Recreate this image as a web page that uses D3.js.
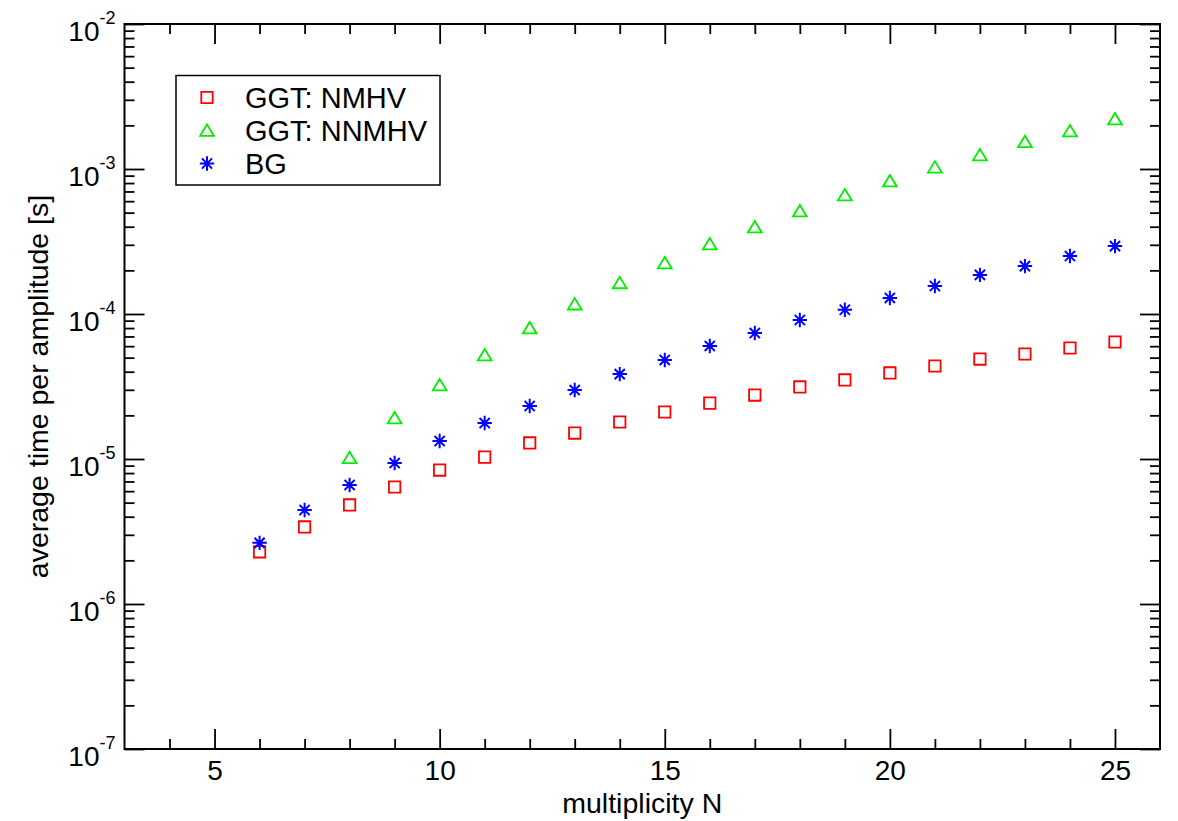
<!DOCTYPE html>
<html>
<head>
<meta charset="utf-8">
<script src="https://cdn.jsdelivr.net/npm/d3@7"></script>
<style>
  html, body { margin: 0; padding: 0; background: #fff; }
  svg { display: block; font-family: "Liberation Sans", Arial, Helvetica, sans-serif; }
</style>
</head>
<body>
<script>
// multiplicity N for each series
const nNMHV = [6, 7, 8, 9, 10, 11, 12, 13, 14, 15, 16, 17, 18, 19, 20, 21, 22, 23, 24, 25];
const nNNMHV = [8, 9, 10, 11, 12, 13, 14, 15, 16, 17, 18, 19, 20, 21, 22, 23, 24, 25];
const nBG = [6, 7, 8, 9, 10, 11, 12, 13, 14, 15, 16, 17, 18, 19, 20, 21, 22, 23, 24, 25];

// average time per amplitude [s]
const tNMHV = [2.29e-6, 3.40e-6, 4.82e-6, 6.41e-6, 8.39e-6, 1.03e-5, 1.29e-5, 1.51e-5, 1.80e-5, 2.11e-5,
               2.43e-5, 2.76e-5, 3.14e-5, 3.51e-5, 3.92e-5, 4.38e-5, 4.89e-5, 5.30e-5, 5.83e-5, 6.41e-5];
const tNNMHV = [1.02e-5, 1.92e-5, 3.24e-5, 5.21e-5, 8.0e-5, 1.17e-4, 1.64e-4, 2.25e-4, 3.04e-4, 3.98e-4,
                5.13e-4, 6.62e-4, 8.26e-4, 1.03e-3, 1.25e-3, 1.54e-3, 1.83e-3, 2.21e-3];
const tBG = [2.64e-6, 4.45e-6, 6.62e-6, 9.38e-6, 1.33e-5, 1.77e-5, 2.32e-5, 2.99e-5, 3.85e-5, 4.82e-5,
             6.02e-5, 7.39e-5, 9.09e-5, 1.07e-4, 1.29e-4, 1.56e-4, 1.86e-4, 2.14e-4, 2.51e-4, 2.94e-4];

const seriesNames = ["GGT: NMHV", "GGT: NNMHV", "BG"];
const xMajor = [5, 10, 15, 20, 25];
const xMinor = [4, 6, 7, 8, 9, 11, 12, 13, 14, 16, 17, 18, 19, 21, 22, 23, 24];
const yExp = [-7, -6, -5, -4, -3, -2];

let W = 1178, H = 821;
let plot = {left: 124.5, right: 1160, top: 24, bottom: 749};

let svg = d3.select("body").append("svg")
    .attr("width", W)
    .attr("height", H);

let x = d3.scaleLinear([3, 26], [plot.left, plot.right]);
let y = d3.scaleLog([1e-7, 1e-2], [plot.bottom, plot.top]);

let yMajor = yExp.map(e => Math.pow(10, e));
let yMinor = [];
for (let e of yExp.slice(0, -1)) {
    for (let k = 2; k <= 9; k++) yMinor.push(k * Math.pow(10, e));
}

function styleAxis(g) {
    g.select(".domain").remove();
    g.selectAll(".tick line").attr("stroke", "#000").attr("stroke-width", 1.8);
}

// major + minor ticks on all four sides, pointing inwards
svg.append("g").attr("transform", `translate(0,${plot.bottom})`)
    .call(d3.axisBottom(x).tickValues(xMajor).tickSize(-20).tickFormat(d3.format("d")))
    .call(styleAxis)
    .call(g => g.selectAll(".tick text")
        .attr("font-size", 28).attr("fill", "#000").attr("font-family", null).attr("dy", 0).attr("y", 30.5));
svg.append("g").attr("transform", `translate(0,${plot.bottom})`)
    .call(d3.axisBottom(x).tickValues(xMinor).tickSize(-10).tickFormat(""))
    .call(styleAxis);
svg.append("g").attr("transform", `translate(0,${plot.top})`)
    .call(d3.axisTop(x).tickValues(xMajor).tickSize(-20).tickFormat(""))
    .call(styleAxis);
svg.append("g").attr("transform", `translate(0,${plot.top})`)
    .call(d3.axisTop(x).tickValues(xMinor).tickSize(-10).tickFormat(""))
    .call(styleAxis);

svg.append("g").attr("transform", `translate(${plot.left},0)`)
    .call(d3.axisLeft(y).tickValues(yMajor).tickSize(-20).tickPadding(9).tickFormat(""))
    .call(styleAxis)
    .call(g => g.selectAll(".tick text")
        .attr("font-family", null)
        .attr("fill", "#000")
        .attr("dy", 0)
        .attr("y", 16)
        .each(function(d) {
            let t = d3.select(this);
            t.append("tspan").attr("font-size", 28).text("10");
            t.append("tspan").attr("font-size", 18).attr("dy", -17)
                .text(String(Math.round(Math.log10(d))));
        }));
svg.append("g").attr("transform", `translate(${plot.left},0)`)
    .call(d3.axisLeft(y).tickValues(yMinor).tickSize(-10).tickFormat(""))
    .call(styleAxis);
svg.append("g").attr("transform", `translate(${plot.right},0)`)
    .call(d3.axisRight(y).tickValues(yMajor).tickSize(-20).tickFormat(""))
    .call(styleAxis);
svg.append("g").attr("transform", `translate(${plot.right},0)`)
    .call(d3.axisRight(y).tickValues(yMinor).tickSize(-10).tickFormat(""))
    .call(styleAxis);

// frame
svg.append("rect")
    .attr("x", plot.left).attr("y", plot.top)
    .attr("width", plot.right - plot.left).attr("height", plot.bottom - plot.top)
    .attr("fill", "none").attr("stroke", "#000").attr("stroke-width", 2);

// axis titles
svg.append("text")
    .attr("x", (plot.left + plot.right) / 2).attr("y", 813)
    .attr("text-anchor", "middle").attr("font-size", 28.5)
    .text("multiplicity N");
svg.append("text")
    .attr("transform", `translate(48,${(plot.top + plot.bottom) / 2}) rotate(-90)`)
    .attr("text-anchor", "middle").attr("font-size", 28.5)
    .text("average time per amplitude [s]");

// marker shapes
const starPath = "M-7.2,0H7.2M0,-7.2V7.2M-5.1,-5.1L5.1,5.1M-5.1,5.1L5.1,-5.1";
const triPath = "M0,-6L6.9,5.4L-6.9,5.4Z";
const sqPath = "M-5.7,-5.7H5.7V5.7H-5.7Z";

let series = [
    {name: seriesNames[0], n: nNMHV, t: tNMHV, color: "#ff0000", path: sqPath, width: 1.8},
    {name: seriesNames[1], n: nNNMHV, t: tNNMHV, color: "#00ee00", path: triPath, width: 1.8},
    {name: seriesNames[2], n: nBG, t: tBG, color: "#0000ff", path: starPath, width: 2}
];

for (let s of series) {
    svg.append("g")
        .selectAll("path")
        .data(s.n.map((n, i) => [n, s.t[i]]))
        .join("path")
          .attr("transform", d => `translate(${x(d[0])},${y(d[1])})`)
          .attr("d", s.path)
          .attr("fill", "none")
          .attr("stroke", s.color)
          .attr("stroke-width", s.width);
}

// legend
let legend = svg.append("g");
legend.append("rect")
    .attr("x", 176).attr("y", 75.5).attr("width", 264).attr("height", 109.5)
    .attr("fill", "#fff").attr("stroke", "#000").attr("stroke-width", 1.5);
series.forEach((s, i) => {
    let cy = 97.5 + i * 33;
    legend.append("path")
        .attr("transform", `translate(207,${cy})`)
        .attr("d", s.path)
        .attr("fill", "none").attr("stroke", s.color).attr("stroke-width", s.width);
    legend.append("text")
        .attr("x", 245).attr("y", cy + 10.5)
        .attr("font-size", 29)
        .text(s.name);
});
</script>
</body>
</html>
